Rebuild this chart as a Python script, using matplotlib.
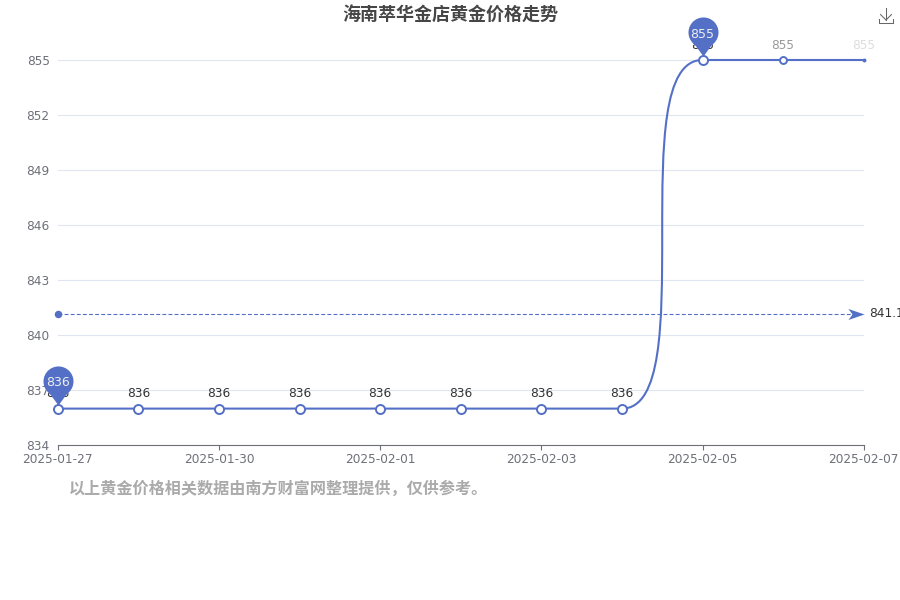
import matplotlib
matplotlib.use('Agg')
import matplotlib.pyplot as plt
from matplotlib.lines import Line2D
from matplotlib.patches import PathPatch
from matplotlib.path import Path
from matplotlib.transforms import Affine2D

plt.rcParams['font.family'] = ['DejaVu Sans', 'Noto Sans CJK SC']

dates = ['2025-01-27', '2025-01-28', '2025-01-30', '2025-01-31', '2025-02-01', '2025-02-02',
         '2025-02-03', '2025-02-04', '2025-02-05', '2025-02-06', '2025-02-07']
prices = [836, 836, 836, 836, 836, 836, 836, 836, 855, 855, 855]
y_ticks = [834, 837, 840, 843, 846, 849, 852, 855]
mean_price = 841.18
title = '海南萃华金店黄金价格走势'
note = '以上黄金价格相关数据由南方财富网整理提供，仅供参考。'

BLUE = '#5470C6'
W, H = 900, 600
X0, X1, Y_TOP, Y_BOTTOM = 57.7, 863.7, 60, 445.3
PX = 0.72  # points per pixel at dpi 100


def pin_marker():
    # round head with a pointed tail, tip at the origin
    head = Path.unit_circle().transformed(Affine2D().scale(15).translate(0, 28))
    tail = Path([(0, 4), (9.5, 17), (-9.5, 17), (0, 4)], closed=True)
    return Path.make_compound_path(head, tail)


def arrow_marker():
    return Path([(8, 0), (-8, 5.5), (-4, 0), (-8, -5.5), (8, 0)], closed=True)


fig = plt.figure(figsize=(W / 100, H / 100), dpi=100)
ax = fig.add_axes([X0 / W, 1 - Y_BOTTOM / H, (X1 - X0) / W, (Y_BOTTOM - Y_TOP) / H])
ax.set_xlim(0, len(dates) - 1)
ax.set_ylim(y_ticks[0], y_ticks[-1])

for s in ['top', 'right', 'left']:
    ax.spines[s].set_visible(False)
ax.spines['bottom'].set_color('#6E7079')
ax.spines['bottom'].set_linewidth(0.8)

ax.set_yticks(y_ticks)
ax.set_xticks(range(0, len(dates), 2))
ax.set_xticklabels(dates[0::2][:1] + dates[2::2])
ax.tick_params(axis='y', length=0, pad=8 * PX, labelsize=8.7, labelcolor='#6E7079')
ax.tick_params(axis='x', length=5 * PX, width=0.8, color='#6E7079', pad=3 * PX,
               labelsize=8.7, labelcolor='#6E7079')
ax.grid(axis='y', color='#E0E6F1', linewidth=0.8, zorder=0)
ax.set_axisbelow(True)

# smooth series line, each control point sits above/below the neighbouring point
xs = list(range(len(prices)))
verts = [(xs[0], prices[0])]
codes = [Path.MOVETO]
for i in range(1, len(xs)):
    verts += [(xs[i], prices[i - 1]), (xs[i - 1], prices[i]), (xs[i], prices[i])]
    codes += [Path.CURVE4, Path.CURVE4, Path.CURVE4]
ax.add_patch(PathPatch(Path(verts, codes), fill=False, edgecolor=BLUE, linewidth=1.5,
                       zorder=3, clip_on=False))

# points and labels, the last two are still fading in
for i, (x, v) in enumerate(zip(xs, prices)):
    if i == len(xs) - 1:
        ax.plot(x, v, 'o', ms=3 * PX * 1.3, color=BLUE, mew=0, zorder=4, clip_on=False)
        color = '#DDDDDD'
    else:
        ms = 6.5 if i < len(xs) - 2 else 5
        ax.plot(x, v, 'o', ms=ms, mfc='white', mec=BLUE, mew=1.4, zorder=4, clip_on=False)
        color = '#333333' if i < len(xs) - 2 else '#999999'
    ax.annotate(str(v), (x, v), xytext=(0, 15 * PX), textcoords='offset points', ha='center',
                va='center', fontsize=8.7, color=color, zorder=4)

# average line
ax.plot([xs[0], xs[-1]], [mean_price, mean_price], color=BLUE, linewidth=0.8,
        dashes=(3.5, 2), zorder=3, clip_on=False)
ax.plot(xs[0], mean_price, 'o', ms=5.4, color=BLUE, mew=0, zorder=4, clip_on=False)
ax.plot(xs[-1] - 0.1, mean_price, marker=arrow_marker(), ms=11.5, color=BLUE, mew=0,
        zorder=4, clip_on=False)
ax.annotate(f'{mean_price:.2f}', (xs[-1], mean_price), xytext=(5 * PX, 0),
            textcoords='offset points', va='center', fontsize=8.7, color='#333333',
            annotation_clip=False)

# max / min pins
for i in [prices.index(min(prices)), prices.index(max(prices))]:
    ax.plot(xs[i], prices[i], marker=pin_marker(), ms=62, color=BLUE, mew=0, zorder=5,
            clip_on=False)
    ax.annotate(str(prices[i]), (xs[i], prices[i]), xytext=(0, 26 * PX),
                textcoords='offset points', ha='center', va='center', fontsize=9,
                color='#EEEEEE', zorder=6, annotation_clip=False)

fig.text(450 / W, 1 - 15 / H, title, ha='center', va='center', fontsize=13, fontweight='bold',
         color='#464646', family=['Noto Sans CJK SC', 'DejaVu Sans'])
fig.text(69 / W, 1 - 488.5 / H, note, ha='left', va='center', fontsize=11.6, fontweight='bold',
         color='#AAAAAA', family=['Noto Sans CJK SC', 'DejaVu Sans'])

# download icon, top right
icon = [[(886, 886), (8, 20)], [(880.5, 886, 891.5), (14.5, 20, 14.5)],
        [(879, 879, 893, 893), (18.5, 23, 23, 18.5)]]
for px, py in icon:
    fig.add_artist(Line2D([p / W for p in px], [1 - p / H for p in py], color='#666666',
                          linewidth=0.75))

fig.savefig('out.png', dpi=100)
